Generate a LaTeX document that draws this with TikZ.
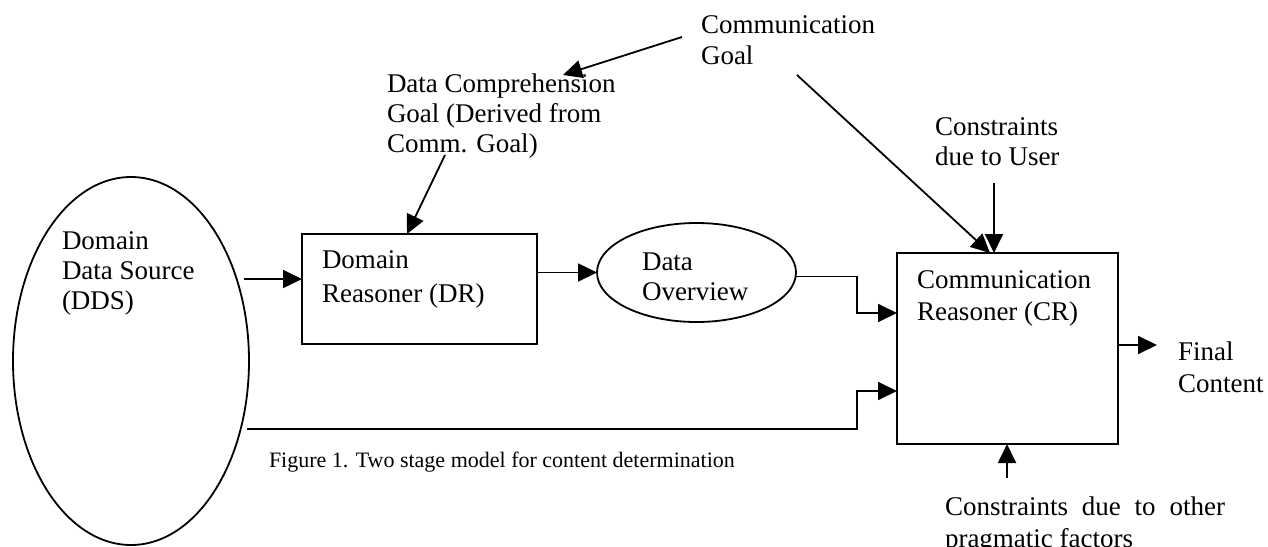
\documentclass[tikz,border=0pt]{standalone}
\usepackage{fontspec}
\setmainfont{Liberation Serif}
\usetikzlibrary{arrows.meta,shapes.geometric}

% stacked lines, baseline of the first line is the node's base
\newcommand{\lns}[1]{\begin{tabular}[t]{@{}l@{}}#1\end{tabular}}

\begin{document}
\begin{tikzpicture}[x=1pt,y=-1pt,
  every node/.style={inner sep=0pt,outer sep=0pt},
  txt/.style={anchor=base west,font=\fontsize{27}{30}\selectfont},
  capt/.style={anchor=base west,font=\fontsize{22}{26}\selectfont},
  ln/.style={line width=1.8pt},
  arr/.style={line width=1.8pt,-{Triangle[length=19pt,width=18pt]}},
  box/.style={draw,line width=1.8pt,rectangle},
  oval/.style={draw,line width=1.8pt,ellipse}]
\useasboundingbox (0,0) rectangle (1268,546);

% main blocks
\node[oval,minimum width=236pt,minimum height=368pt] (dds) at (131,361) {};
\node[box,minimum width=235pt,minimum height=110pt] (dr) at (419.5,289) {};
\node[oval,minimum width=199pt,minimum height=99pt] (do) at (696.5,272.5) {};
\node[box,minimum width=221pt,minimum height=191pt] (cr) at (1007.5,348.5) {};

% labels
\node[txt] (ddst) at (62,249) {\lns{Domain\\Data Source\\(DDS)}};
\node[txt] (drt) at (322,268) {\lns{Domain\\[4pt]Reasoner (DR)}};
\node[txt] (dot) at (642,270) {\lns{Data\\Overview}};
\node[txt] (crt) at (917,288) {\lns{Communication\\[2pt]Reasoner (CR)}};
\node[txt] (final) at (1178,360) {\lns{Final\\[2pt]Content}};
\node[txt] (user) at (935,135) {\lns{Constraints\\due to User}};
\node[txt] (other) at (945,515) {\lns{\hbox to 280pt{Constraints\hfill due\hfill to\hfill other}\\[2pt]pragmatic factors}};
\node[txt] (goal) at (701,33) {\lns{Communication\\[2pt]Goal}};
\node[txt] (dcg) at (387,92) {\lns{Data Comprehension\\Goal (Derived from\\Comm. Goal)}};
\node[capt] (cap) at (269,467) {Figure 1. Two stage model for content determination};

% connector ends
\coordinate (ddsout) at (244,279);
\coordinate (ddslow) at (247,429);
\coordinate (j1) at (857,313);
\coordinate (j2) at (857,391);
\coordinate (finalin) at (1157,345);
\coordinate (otherout) at (1007,478);
\coordinate (userout) at (994,183);
\coordinate (goalout) at (797,75);
\coordinate (goalin) at (990,253);
\coordinate (goalleft) at (682,37);
\coordinate (dcgin) at (563,75);
\coordinate (dcgout) at (445,155);
\coordinate (drin) at (407,234);

% connectors
\draw[arr] (ddsout) -- (ddsout -| dr.west);
\draw[arr] (do.west -| dr.east) -- (do.west);
\draw[arr] ([yshift=-4pt]do.east) -| (j1) -- (j1 -| cr.west);
\draw[arr] (ddslow) -| (j2) -- (j2 -| cr.west);
\draw[arr] (finalin -| cr.east) -- (finalin);
\draw[arr] (otherout) -- (otherout |- cr.south);
\draw[arr] (userout) -- (userout |- cr.north);
\draw[arr] (goalout) -- (goalin);
\draw[arr] (goalleft) -- (dcgin);
\draw[arr] (dcgout) -- (drin);
\end{tikzpicture}
\end{document}
